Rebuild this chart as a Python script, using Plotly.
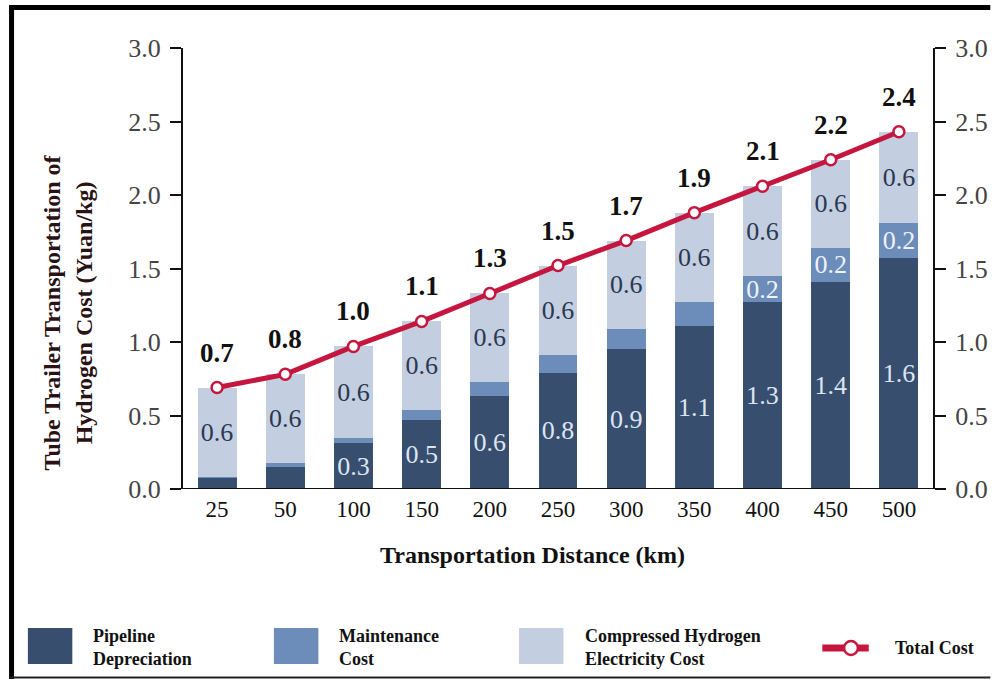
import plotly.graph_objects as go

# ---------------- data ----------------
distances = ["25", "50", "100", "150", "200", "250", "300", "350", "400", "450", "500"]
pipeline_depreciation = [0.075, 0.15, 0.31, 0.47, 0.63, 0.79, 0.95, 1.11, 1.27, 1.41, 1.57]
maintenance_cost = [0.01, 0.03, 0.035, 0.07, 0.10, 0.12, 0.14, 0.16, 0.18, 0.23, 0.24]
electricity_cost = [0.605, 0.60, 0.625, 0.60, 0.60, 0.61, 0.60, 0.61, 0.61, 0.60, 0.62]
total_cost = [0.69, 0.78, 0.97, 1.14, 1.33, 1.52, 1.69, 1.88, 2.06, 2.24, 2.43]

pipeline_labels = ["", "", "0.3", "0.5", "0.6", "0.8", "0.9", "1.1", "1.3", "1.4", "1.6"]
maintenance_labels = ["", "", "", "", "", "", "", "", "0.2", "0.2", "0.2"]
electricity_labels = ["0.6"] * 11
total_labels = ["0.7", "0.8", "1.0", "1.1", "1.3", "1.5", "1.7", "1.9", "2.1", "2.2", "2.4"]

y_ticks = [0.0, 0.5, 1.0, 1.5, 2.0, 2.5, 3.0]

# ---------------- style ----------------
C_DARK = "#384e6f"
C_MID = "#6c8cb9"
C_LIGHT = "#c3cee0"
C_LINE = "#c5163f"
FONT = "Liberation Serif"

W, H = 1000, 679
L, R, T, B = 183, 942, 48, 489  # plot-area box in window pixels


def px(x):
    return (x - L) / (R - L)


def py(y):
    return (B - y) / (B - T)


fig = go.Figure()

bar_text_common = dict(textposition="inside", insidetextanchor="middle",
                       constraintext="none", textangle=0)

fig.add_trace(go.Bar(
    x=distances, y=pipeline_depreciation, name="Pipeline Depreciation",
    marker=dict(color=C_DARK, line=dict(width=0)),
    text=pipeline_labels, textfont=dict(family=FONT, size=26, color="#dde5f2"),
    hoverinfo="x+y", **bar_text_common,
))
fig.add_trace(go.Bar(
    x=distances, y=maintenance_cost, name="Maintenance Cost",
    marker=dict(color=C_MID, line=dict(width=0)),
    text=maintenance_labels, textfont=dict(family=FONT, size=26, color="#eef2fa"),
    hoverinfo="x+y", **bar_text_common,
))
fig.add_trace(go.Bar(
    x=distances, y=electricity_cost, name="Compressed Hydrogen Electricity Cost",
    marker=dict(color=C_LIGHT, line=dict(width=0)),
    text=electricity_labels, textfont=dict(family=FONT, size=26, color="#2a3850"),
    hoverinfo="x+y", **bar_text_common,
))
fig.add_trace(go.Scatter(
    x=distances, y=total_cost, name="Total Cost", mode="lines+markers",
    line=dict(color=C_LINE, width=5),
    marker=dict(symbol="circle", size=11, color="white", line=dict(color=C_LINE, width=2.5)),
    yaxis="y2", cliponaxis=False,
))

annotations = []
for i, (t, lab) in enumerate(zip(total_cost, total_labels)):
    # category serial index i corresponds to distances[i]
    annotations.append(dict(
        x=i, y=t, xref="x", yref="y", text=f"<b>{lab}</b>", showarrow=False,
        yshift=35, font=dict(family=FONT, size=27, color="#111111"),
    ))

# axis titles
annotations.append(dict(
    x=px(66), y=py(312), xref="paper", yref="paper", textangle=-90,
    text="<b>Tube Trailer Transportation of<br>Hydrogen Cost (Yuan/kg)</b>",
    showarrow=False, xanchor="center", yanchor="middle",
    font=dict(family=FONT, size=24, color="#2a1214"),
))
annotations.append(dict(
    x=px(537), y=py(555), xref="paper", yref="paper",
    text="<b>Transportation Distance (km)</b>", showarrow=False,
    xanchor="center", yanchor="middle",
    font=dict(family=FONT, size=24, color="#111111"),
))

# ---------- custom legend ----------
shapes = []
legend_items = [
    (C_DARK, 26, 71, 90, "<b>Pipeline<br>Depreciation</b>"),
    (C_MID, 275, 320, 339, "<b>Maintenance<br>Cost</b>"),
    (C_LIGHT, 523, 568, 588, "<b>Compressed Hydrogen<br>Electricity Cost</b>"),
]
for col, x0, x1, tx, label in legend_items:
    shapes.append(dict(type="rect", xref="paper", yref="paper",
                       x0=px(x0), x1=px(x1), y0=py(664), y1=py(628),
                       fillcolor=col, line=dict(width=0)))
    annotations.append(dict(x=px(tx), y=py(647), xref="paper", yref="paper",
                            text=label, showarrow=False, xanchor="left", yanchor="middle",
                            align="left",
                            font=dict(family=FONT, size=18, color="#111111")))
shapes.append(dict(type="line", xref="paper", yref="paper",
                   x0=px(830), x1=px(877), y0=py(648), y1=py(648),
                   line=dict(color=C_LINE, width=7)))
shapes.append(dict(type="circle", xref="paper", yref="paper",
                   x0=px(852), x1=px(866), y0=py(655), y1=py(641),
                   fillcolor="white", line=dict(color=C_LINE, width=2.5)))
annotations.append(dict(x=px(902), y=py(648), xref="paper", yref="paper",
                        text="<b>Total Cost</b>", showarrow=False, xanchor="left",
                        yanchor="middle", font=dict(family=FONT, size=18, color="#111111")))

# ---------- frame lines ----------
shapes.append(dict(type="line", xref="paper", yref="paper", x0=px(7), x1=px(1000),
                   y0=py(7.5), y1=py(7.5), line=dict(color="black", width=5)))
shapes.append(dict(type="line", xref="paper", yref="paper", x0=px(9.5), x1=px(9.5),
                   y0=py(5), y1=py(679), line=dict(color="black", width=5)))
shapes.append(dict(type="line", xref="paper", yref="paper", x0=px(7), x1=px(1000),
                   y0=py(677.5), y1=py(677.5), line=dict(color="#222222", width=2)))

axis_common = dict(
    range=[0, 3], tickvals=y_ticks, ticktext=[f"{v:.1f}" for v in y_ticks],
    showgrid=False, zeroline=False, showline=True, linecolor="#111111", linewidth=2,
    ticks="outside", ticklen=11, tickwidth=2, tickcolor="#111111",
    tickfont=dict(family=FONT, size=26, color="#444444"),
    ticklabelstandoff=4,
)

fig.update_layout(
    width=W, height=H,
    margin=dict(l=L, r=(W - R), t=T, b=(H - B), pad=0),
    paper_bgcolor="white", plot_bgcolor="white",
    barmode="stack", bargap=0.43,
    showlegend=False,
    font=dict(family=FONT),
    xaxis=dict(
        type="category", categoryorder="array", categoryarray=distances,
        range=[-0.5, len(distances) - 0.5],
        showgrid=False, zeroline=False, showline=False,
        ticks="", tickfont=dict(family=FONT, size=23, color="#111111"),
        ticklabelstandoff=4,
    ),
    yaxis=dict(side="left", **axis_common),
    yaxis2=dict(side="right", overlaying="y", **axis_common),
    shapes=shapes,
    annotations=annotations,
)

# x-axis baseline extending across both tick stubs
fig.add_shape(type="line", xref="paper", yref="y", x0=px(172), x1=px(953), y0=0, y1=0,
              line=dict(color="#111111", width=2))

fig.write_html(
    "out.html",
    config={"displayModeBar": False},
    post_script="document.body.style.margin='0px';document.body.style.overflow='hidden';",
)
